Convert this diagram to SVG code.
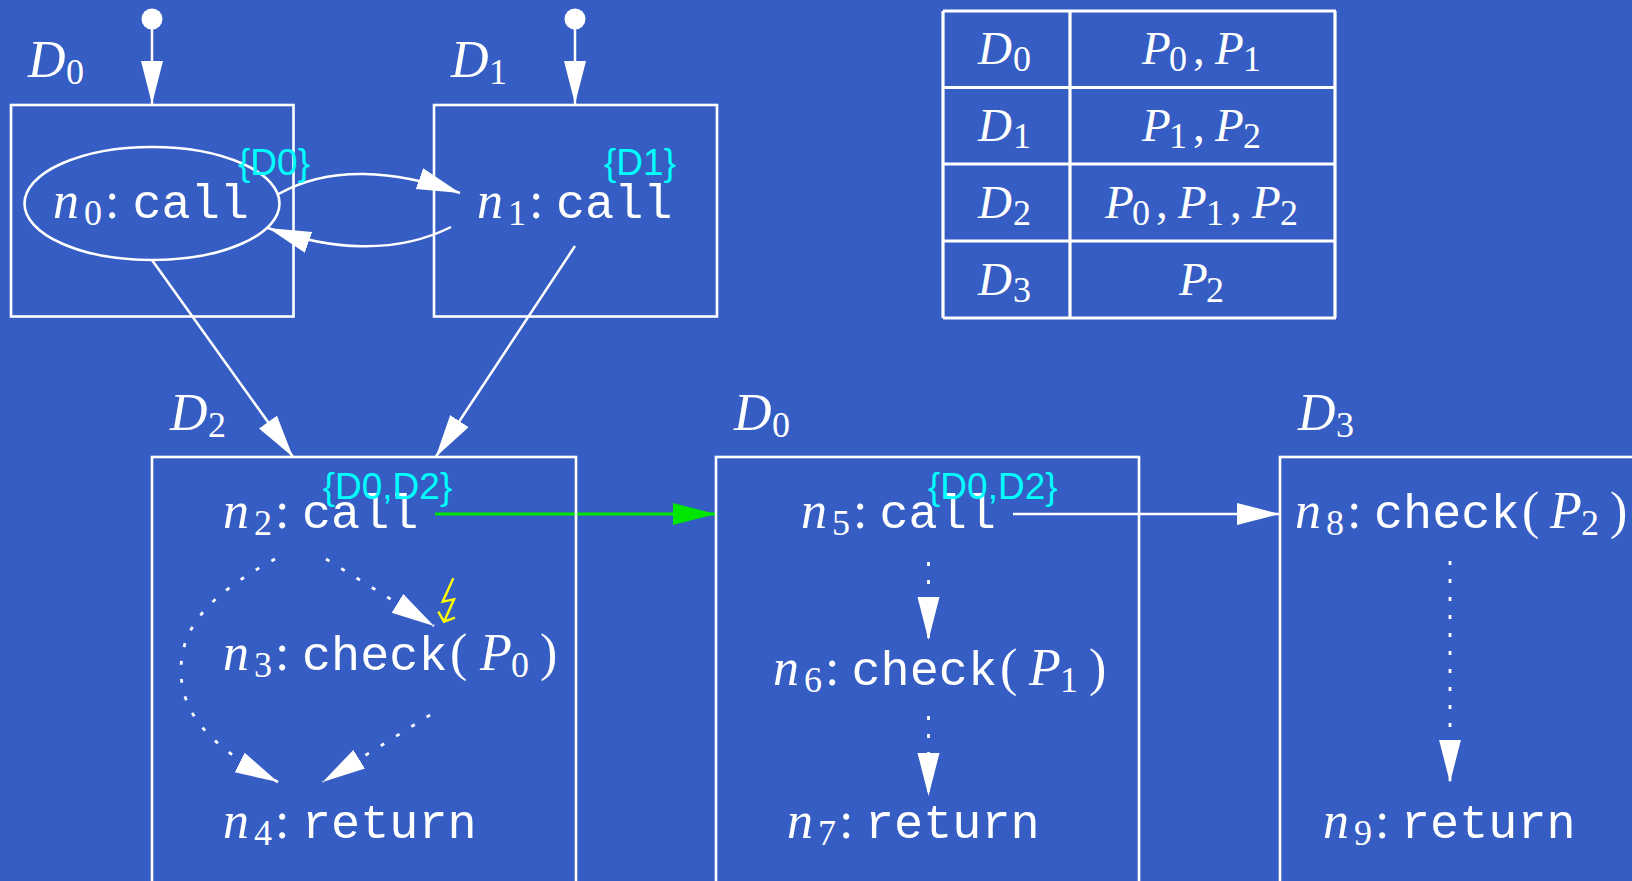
<svg xmlns="http://www.w3.org/2000/svg" width="1632" height="881" viewBox="0 0 1632 881">
<defs>
<style>
.box{fill:none;stroke:#fff;stroke-width:2.6}
.e{fill:none;stroke:#fff;stroke-width:2.5;marker-end:url(#w)}
.d{fill:none;stroke:#fff;stroke-width:2.8;stroke-dasharray:4 14;marker-end:url(#w)}
.t{font-family:"Liberation Serif",serif;font-size:52px;fill:#fff}
.tb{font-family:"Liberation Serif",serif;font-size:47px;fill:#fff}
.i{font-style:italic}
.s{font-size:36px}
.m{font-family:"Liberation Mono",monospace;font-size:48.500px}
.c{font-family:"Liberation Sans",sans-serif;font-size:37px;fill:#0ff}
.g{stroke:#fff;stroke-width:3.200;fill:none}
</style>
<marker id="w" markerUnits="userSpaceOnUse" markerWidth="44" markerHeight="24" refX="43" refY="11" orient="auto"><path d="M0,0L43,11L0,22Z" fill="#fff"/></marker>
<marker id="gr" markerUnits="userSpaceOnUse" markerWidth="44" markerHeight="24" refX="43" refY="11" orient="auto"><path d="M0,0L43,11L0,22Z" fill="#00e600"/></marker>
</defs>
<rect width="1632" height="881" fill="#355dc4"/>
<g id="connectors">
<path class="e" d="M152,29V104"/>
<path class="e" d="M575,29V104"/>
<path class="e" d="M278.500,194C330,165 395,170 460,193"/>
<path class="e" d="M451,227C395,255 330,250 268,228"/>
<path class="e" d="M152,260L293,457"/>
<path class="e" d="M575,246L435.700,457"/>
<path d="M435,514H716" fill="none" stroke="#00e600" stroke-width="2.800" marker-end="url(#gr)"/>
<path class="e" d="M1013,514H1280"/>
<path class="d" d="M326,559L434,626"/>
<path class="d" d="M275,559C205,597 181,630 181,670C181,710 205,745 278,782"/>
<path class="d" d="M430,715L322.700,782"/>
<path class="d" d="M928.500,562V640"/>
<path class="d" d="M928.500,716V796"/>
<path class="d" d="M1450,561V782.700"/>
<path d="M453.300,578.300L442.700,601.700L454,599.300L444,621.700M438.300,611.700L444,621.700L455,617.700" fill="none" stroke="#ff0" stroke-width="2.400"/>
</g>
<g id="D0-top">
<circle cx="152" cy="19" r="10.500" fill="#fff"/>
<rect class="box" x="11" y="105" width="282.500" height="211.500"/>
<text class="t" y="77"><tspan class="i" x="28">D</tspan><tspan class="s" x="66" y="84">0</tspan></text>
<ellipse class="box" cx="152" cy="203.500" rx="127.500" ry="56.500"/>
<text class="t" y="218"><tspan class="i" x="53">n</tspan><tspan class="s" x="84" y="225">0</tspan><tspan x="105" y="218">:</tspan><tspan class="m" x="132.500">call</tspan></text>
<text class="c" x="238" y="175">{D0}</text>
</g>
<g id="D1-top">
<circle cx="575" cy="19" r="10.500" fill="#fff"/>
<rect class="box" x="434" y="105" width="283" height="211.500"/>
<text class="t" y="77"><tspan class="i" x="451">D</tspan><tspan class="s" x="489" y="84">1</tspan></text>
<text class="t" y="218"><tspan class="i" x="477">n</tspan><tspan class="s" x="508" y="225">1</tspan><tspan x="529" y="218">:</tspan><tspan class="m" x="556">call</tspan></text>
<text class="c" x="604" y="175">{D1}</text>
</g>
<g id="D2-box">
<rect class="box" x="152" y="457" width="424" height="430"/>
<text class="t" y="430"><tspan class="i" x="170">D</tspan><tspan class="s" x="208" y="437">2</tspan></text>
<text class="t" y="528"><tspan class="i" x="223">n</tspan><tspan class="s" x="254" y="535">2</tspan><tspan x="275" y="528">:</tspan><tspan class="m" x="302">call</tspan></text>
<text class="c" x="322.700" y="499">{D0,D2}</text>
<text class="t" y="670"><tspan class="i" x="223">n</tspan><tspan class="s" x="254" y="677">3</tspan><tspan x="275" y="670">:</tspan><tspan class="m" x="302">check</tspan><tspan x="450" y="670">(</tspan><tspan class="i" x="480">P</tspan><tspan class="s" x="511" y="677">0</tspan><tspan x="540" y="670">)</tspan></text>
<text class="t" y="838"><tspan class="i" x="223">n</tspan><tspan class="s" x="254" y="845">4</tspan><tspan x="275" y="838">:</tspan><tspan class="m" x="302">return</tspan></text>
</g>
<g id="D0-box">
<rect class="box" x="716" y="457" width="423" height="430"/>
<text class="t" y="430"><tspan class="i" x="734">D</tspan><tspan class="s" x="772" y="437">0</tspan></text>
<text class="t" y="528"><tspan class="i" x="801">n</tspan><tspan class="s" x="832" y="535">5</tspan><tspan x="853" y="528">:</tspan><tspan class="m" x="879.500">call</tspan></text>
<text class="c" x="928" y="499">{D0,D2}</text>
<text class="t" y="685"><tspan class="i" x="773">n</tspan><tspan class="s" x="804" y="692">6</tspan><tspan x="825" y="685">:</tspan><tspan class="m" x="851.500">check</tspan><tspan x="1000" y="685">(</tspan><tspan class="i" x="1029">P</tspan><tspan class="s" x="1060" y="692">1</tspan><tspan x="1089" y="685">)</tspan></text>
<text class="t" y="838"><tspan class="i" x="787">n</tspan><tspan class="s" x="818" y="845">7</tspan><tspan x="839" y="838">:</tspan><tspan class="m" x="865">return</tspan></text>
</g>
<g id="D3-box">
<rect class="box" x="1280" y="457" width="380" height="430"/>
<text class="t" y="430"><tspan class="i" x="1298">D</tspan><tspan class="s" x="1336" y="437">3</tspan></text>
<text class="t" y="528"><tspan class="i" x="1295">n</tspan><tspan class="s" x="1326" y="535">8</tspan><tspan x="1347" y="528">:</tspan><tspan class="m" x="1374">check</tspan><tspan x="1522" y="528">(</tspan><tspan class="i" x="1550">P</tspan><tspan class="s" x="1581" y="535">2</tspan><tspan x="1610" y="528">)</tspan></text>
<text class="t" y="838"><tspan class="i" x="1323">n</tspan><tspan class="s" x="1354" y="845">9</tspan><tspan x="1375" y="838">:</tspan><tspan class="m" x="1401">return</tspan></text>
</g>
<g id="table">
<path class="g" d="M943,11H1336M943,87.500H1336M943,164H1336M943,241H1336M943,318H1336M943,11V318M1070,11V318M1335,11V318"/>
<text class="tb" y="64"><tspan class="i" x="978">D</tspan><tspan class="s" x="1013" y="71">0</tspan></text>
<text class="tb" y="141"><tspan class="i" x="978">D</tspan><tspan class="s" x="1013" y="148">1</tspan></text>
<text class="tb" y="218"><tspan class="i" x="978">D</tspan><tspan class="s" x="1013" y="225">2</tspan></text>
<text class="tb" y="295"><tspan class="i" x="978">D</tspan><tspan class="s" x="1013" y="302">3</tspan></text>
<text class="tb" y="64"><tspan class="i" x="1142">P</tspan><tspan class="s" x="1169" y="71">0</tspan><tspan x="1193" y="64">,</tspan><tspan class="i" x="1215">P</tspan><tspan class="s" x="1243" y="71">1</tspan></text>
<text class="tb" y="141"><tspan class="i" x="1142">P</tspan><tspan class="s" x="1169" y="148">1</tspan><tspan x="1193" y="141">,</tspan><tspan class="i" x="1215">P</tspan><tspan class="s" x="1243" y="148">2</tspan></text>
<text class="tb" y="218"><tspan class="i" x="1105">P</tspan><tspan class="s" x="1132" y="225">0</tspan><tspan x="1156" y="218">,</tspan><tspan class="i" x="1178">P</tspan><tspan class="s" x="1206" y="225">1</tspan><tspan x="1230" y="218">,</tspan><tspan class="i" x="1252">P</tspan><tspan class="s" x="1280" y="225">2</tspan></text>
<text class="tb" y="295"><tspan class="i" x="1179">P</tspan><tspan class="s" x="1206" y="302">2</tspan></text>
</g>
</svg>
